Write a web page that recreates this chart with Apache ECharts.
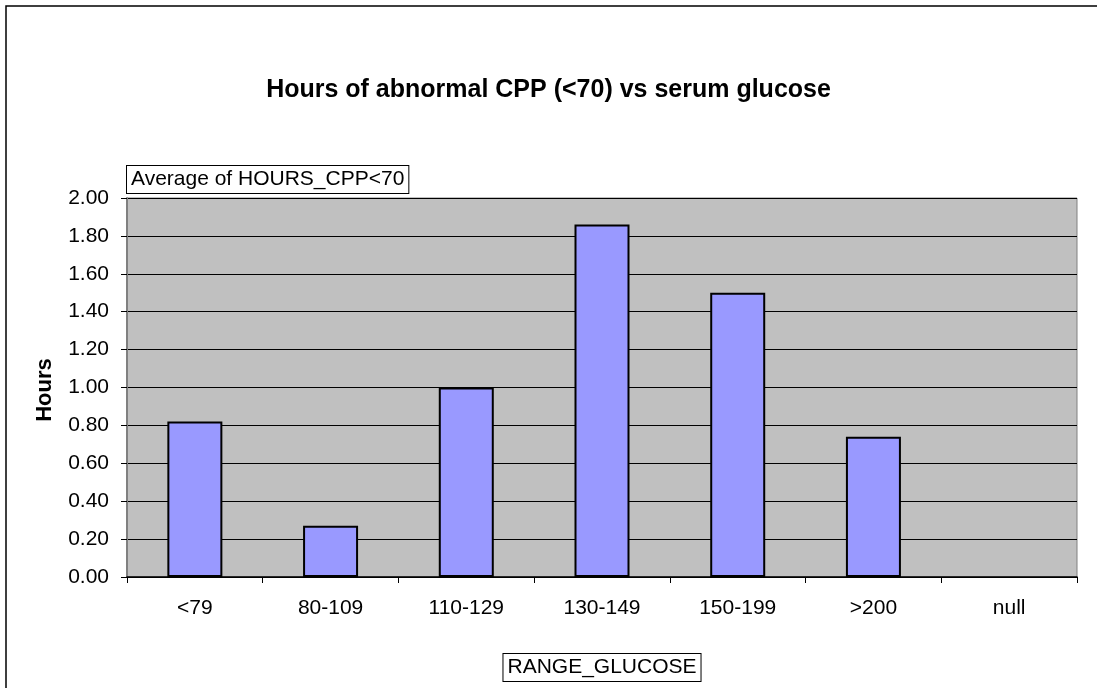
<!DOCTYPE html>
<html>
<head>
<meta charset="utf-8">
<title>Hours of abnormal CPP vs serum glucose</title>
<script src="https://cdn.jsdelivr.net/npm/echarts@6/dist/echarts.min.js"></script>
<style>
	html, body { margin: 0; padding: 0; background: #fff; }
	#chart { width: 1097px; height: 688px; }
</style>
</head>
<body>
<div id="chart"></div>
<script>
	// glucose ranges on the x axis
	var categories = ['<79', '80-109', '110-129', '130-149', '150-199', '>200', 'null'];
	// average hours with CPP < 70 per range (null has no bar)
	var avgHours = [0.82, 0.27, 1.00, 1.86, 1.50, 0.74, null];
	// y axis range
	var yMin = 0, yMax = 2, yStep = 0.2;

	var FONT = "'Liberation Sans', Arial, sans-serif";

	var chart = echarts.init(document.getElementById('chart'));

	var option = {
		animation: false,
		backgroundColor: '#fff',
		textStyle: { fontFamily: FONT, color: '#000' },

		title: {
			text: 'Hours of abnormal CPP (<70) vs serum glucose',
			left: 'center',
			top: 73,
			textStyle: { fontFamily: FONT, fontSize: 25, fontWeight: 'bold', color: '#000' }
		},

		grid: {
			left: 127,
			top: 198,
			right: 20,
			bottom: 111,
			outerBoundsMode: 'none', // keep the plot exactly where it is
			show: true,
			backgroundColor: '#C0C0C0',
			borderColor: '#808080',
			borderWidth: 1
		},

		xAxis: {
			type: 'category',
			data: categories,
			boundaryGap: true,
			name: 'RANGE_GLUCOSE',
			nameLocation: 'middle',
			nameGap: 77,
			nameTextStyle: {
				fontFamily: FONT, fontSize: 21, color: '#000',
				borderColor: '#000', borderWidth: 1, backgroundColor: '#fff',
				padding: [3, 4, 3, 4]
			},
			axisLine: { lineStyle: { color: '#000', width: 1.5 } },
			axisTick: { show: true, length: 6, lineStyle: { color: '#000' } },
			axisLabel: { fontFamily: FONT, fontSize: 21, color: '#000', margin: 21 }
		},

		yAxis: {
			type: 'value',
			min: yMin,
			max: yMax,
			interval: yStep,
			name: 'Average of HOURS_CPP<70',
			nameLocation: 'end',
			nameGap: 5,
			nameTextStyle: {
				fontFamily: FONT, fontSize: 21, color: '#000', align: 'left', verticalAlign: 'bottom',
				borderColor: '#000', borderWidth: 1, backgroundColor: '#fff',
				padding: [3, 4, 3, 4]
			},
			axisLine: { show: true, lineStyle: { color: '#808080', width: 2 } },
			axisTick: { show: true, length: 6, lineStyle: { color: '#000' } },
			axisLabel: {
				fontFamily: FONT, fontSize: 21, color: '#000', margin: 18,
				formatter: function(v) { return v.toFixed(2); }
			},
			splitLine: { show: true, lineStyle: { color: '#000', width: 1 } }
		},

		series: [{
			name: 'Average of HOURS_CPP<70',
			type: 'bar',
			data: avgHours,
			barWidth: 55,
			itemStyle: { color: '#9999FF', borderColor: '#000', borderWidth: 2 }
		}],

		graphic: [
			// outer chart border, only left and top sides are inside the picture
			{
				type: 'polyline',
				shape: { points: [[6, 700], [6, 6], [1110, 6]] },
				style: { fill: null, stroke: '#000', lineWidth: 1.5 },
				silent: true
			},
			// value axis title
			{
				type: 'text',
				x: 45,
				y: 390,
				rotation: Math.PI / 2,
				style: {
					text: 'Hours',
					font: 'bold 22px ' + FONT,
					fill: '#000',
					textAlign: 'center',
					textVerticalAlign: 'middle'
				}
			}
		]
	};

	chart.setOption(option);
</script>
</body>
</html>
